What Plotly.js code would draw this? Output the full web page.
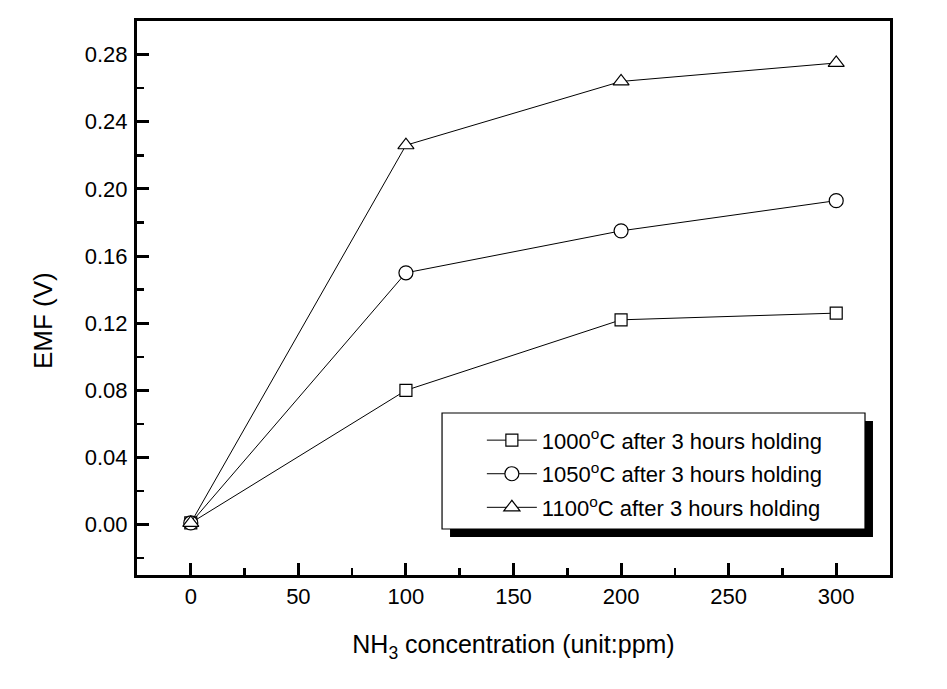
<!DOCTYPE html>
<html>
<head>
<meta charset="utf-8">
<script src="https://cdn.plot.ly/plotly-3.0.1.min.js"></script>
<style>
  html, body { margin: 0; padding: 0; background: #fff; }
  #chart { width: 947px; height: 689px; }
</style>
</head>
<body>
<div id="chart"></div>
<script>
// ---- data ----
const concentration = [0, 100, 200, 300];
const emf1000 = [0.001, 0.080, 0.122, 0.126];
const emf1050 = [0.001, 0.150, 0.175, 0.193];
const emf1100 = [0.001, 0.226, 0.264, 0.275];
const seriesNames = [
  "1000<sup>o</sup>C after 3 hours holding",
  "1050<sup>o</sup>C after 3 hours holding",
  "1100<sup>o</sup>C after 3 hours holding"
];
const xTitle = "NH<sub>3</sub> concentration (unit:ppm)";
const yTitle = "EMF (V)";

const FONT = "Liberation Sans, Arial, sans-serif";

function mk(y, name, symbol, size, grp) {
  return {
    x: concentration, y: y, name: name, type: "scatter", mode: "lines+markers",
    legendgroup: grp,
    line: { color: "#000", width: 1 },
    marker: { symbol: symbol, size: size, color: "#fff", line: { color: "#000", width: 1.2 } },
    cliponaxis: false
  };
}

const traces = [
  mk(emf1000, seriesNames[0], "square", 12, "a"),
  mk(emf1050, seriesNames[1], "circle", 14, "b"),
  mk(emf1100, seriesNames[2], "triangle-up", 14, "c")
];

const axisCommon = {
  showline: true, linecolor: "#000", linewidth: 3, mirror: true,
  ticks: "inside", ticklen: 12, tickwidth: 3, tickcolor: "#000",
  showgrid: false, zeroline: false,
  tickfont: { family: FONT, size: 22, color: "#000" }
};

const layout = {
  width: 947, height: 689,
  margin: { l: 137, r: 57, t: 21, b: 114 },
  paper_bgcolor: "#fff", plot_bgcolor: "#fff",
  font: { family: FONT, color: "#000" },
  showlegend: true,
  xaxis: Object.assign({}, axisCommon, {
    range: [-25, 325], tick0: 0, dtick: 50,
    minor: { ticks: "inside", dtick: 25, ticklen: 7, tickwidth: 2.5, tickcolor: "#000", showgrid: false },
    title: { text: xTitle, font: { family: FONT, size: 25, color: "#000" }, standoff: 28 }
  }),
  yaxis: Object.assign({}, axisCommon, {
    range: [-0.03, 0.30], tick0: 0, dtick: 0.04, tickformat: ".2f",
    ticklabelstandoff: 2,
    minor: { ticks: "inside", dtick: 0.02, ticklen: 7, tickwidth: 2.5, tickcolor: "#000", showgrid: false },
    title: { text: "" }
  }),
  legend: {
    x: 0.458, y: 0.281, xanchor: "left", yanchor: "top",
    bgcolor: "rgba(0,0,0,0)", borderwidth: 0,
    font: { family: FONT, size: 22, color: "#000" },
    tracegroupgap: 2, itemwidth: 50
  },
  shapes: [
    { type: "rect", xref: "paper", yref: "paper", x0: 0.4157, x1: 0.9774, y0: 0.0686, y1: 0.2780,
      fillcolor: "#000", line: { width: 0 }, layer: "above" },
    { type: "rect", xref: "paper", yref: "paper", x0: 0.4051, x1: 0.9668, y0: 0.0830, y1: 0.2924,
      fillcolor: "#fff", line: { color: "#000", width: 1.2 }, layer: "above" }
  ],
  annotations: [
    { text: yTitle, xref: "paper", yref: "paper", x: -0.1248, y: 0.4585,
      xanchor: "center", yanchor: "middle", textangle: -90, showarrow: false,
      font: { family: FONT, size: 26, color: "#000" } }
  ]
};

Plotly.newPlot("chart", traces, layout, { staticPlot: true, displayModeBar: false });
</script>
</body>
</html>
